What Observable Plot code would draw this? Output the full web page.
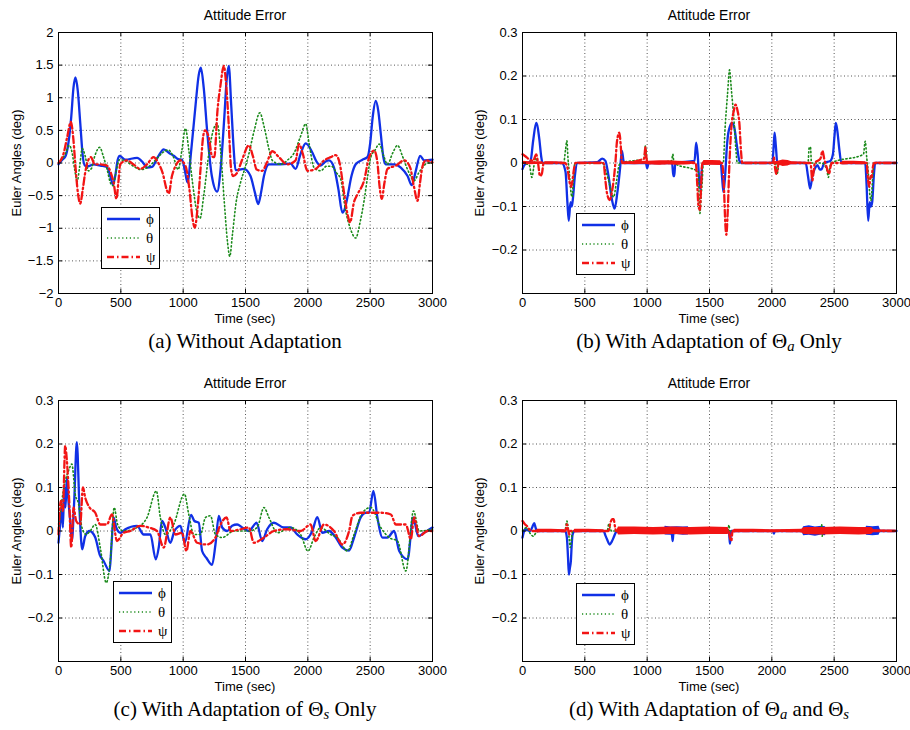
<!DOCTYPE html>
<html><head><meta charset="utf-8">
<script src="https://cdn.jsdelivr.net/npm/d3@7"></script>
<script src="https://cdn.jsdelivr.net/npm/@observablehq/plot@0.6"></script>
<style>
body{margin:0;background:#fff;}
#fig{position:relative;width:910px;height:730px;background:#fff;font-family:"Liberation Sans",Arial,sans-serif;color:#000;overflow:hidden;}
.abs{position:absolute;transform:translate(-50%,-50%);white-space:nowrap;line-height:1.15;}
.title{font-size:14px;}
.xl{font-size:13px;}
.yl{font-size:13px;transform:translate(-50%,-50%) rotate(-90deg);}
.cap{font-family:"Liberation Serif","Times New Roman",serif;font-size:21px;}
.cap sub{font-size:70%;font-style:italic;vertical-align:-0.22em;line-height:0;}
.panel{position:absolute;}
.legend{position:absolute;border:1px solid #000;background:#fff;width:57px;height:60px;}
.legend text{font-family:"Liberation Serif","DejaVu Serif",serif;font-size:15px;}
</style></head><body><div id="fig"></div>
<script>
// ---------- axes ----------
const xTicks = [0, 500, 1000, 1500, 2000, 2500, 3000];
const xTickLabels = ["0", "500", "1000", "1500", "2000", "2500", "3000"];
const yTicksA = [2, 1.5, 1, 0.5, 0, -0.5, -1, -1.5, -2];
const yTickLabelsA = ["2", "1.5", "1", "0.5", "0", "\u22120.5", "\u22121", "\u22121.5", "\u22122"];
const yTicksS = [0.3, 0.2, 0.1, 0, -0.1, -0.2];
const yTickLabelsS = ["0.3", "0.2", "0.1", "0", "\u22120.1", "\u22120.2"];
const yDomainA = [-2, 2];
const yDomainS = [-0.3, 0.3];
const seriesNames = ["\u03d5", "\u03b8", "\u03c8"];
const titleText = "Attitude Error";
const xLabelText = "Time (sec)";
const yLabelText = "Euler Angles (deg)";
const captions = [
  "(a) Without Adaptation",
  "(b) With Adaptation of \u0398<sub>a</sub> Only",
  "(c) With Adaptation of \u0398<sub>s</sub> Only",
  "(d) With Adaptation of \u0398<sub>a</sub> and \u0398<sub>s</sub>"
];

// ---------- (a) without adaptation ----------
const aPhi = [[0,-0.02],[30,0.05],[55,0.1],[75,0.25],[102,0.7],[120,1.15],[136,1.31],[155,1.1],[175,0.6],[195,0.1],[212,-0.04],[241,-0.05],[281,-0.02],[335,-0.04],[388,-0.06],[415,-0.2],[437,-0.33],[455,-0.2],[475,0.05],[490,0.11],[536,0.05],[630,0.08],[680,0.0],[710,-0.07],[750,-0.06],[800,0.1],[844,0.21],[890,0.15],[924,0.11],[960,0.06],[991,0.05],[1012,-0.1],[1035,-0.3],[1065,0.2],[1100,0.9],[1125,1.35],[1142,1.46],[1165,1.15],[1192,0.5],[1230,-0.2],[1273,-0.44],[1300,-0.1],[1330,0.7],[1350,1.3],[1366,1.49],[1385,0.9],[1406,0.19],[1420,-0.11],[1487,-0.09],[1540,-0.2],[1575,-0.45],[1602,-0.63],[1625,-0.45],[1648,-0.2],[1688,-0.02],[1755,-0.02],[1862,-0.01],[1902,-0.09],[1942,0.14],[1983,0.3],[2036,0.16],[2070,0.02],[2103,-0.04],[2140,0.02],[2170,0.04],[2210,-0.07],[2245,-0.4],[2277,-0.76],[2300,-0.68],[2317,-0.53],[2350,-0.2],[2384,-0.02],[2438,0.05],[2478,0.09],[2500,0.3],[2520,0.7],[2545,0.95],[2565,0.8],[2585,0.45],[2605,0.1],[2625,-0.02],[2692,-0.02],[2746,-0.07],[2800,-0.2],[2834,-0.34],[2866,-0.12],[2901,0.11],[2933,0.04],[3000,0.05]];
const aTheta = [[0,0],[25,0.05],[55,0.14],[85,0.27],[110,0.15],[130,-0.1],[150,-0.28],[170,-0.05],[190,0.22],[215,0.1],[240,-0.12],[265,-0.08],[290,0.1],[330,0.24],[360,0.1],[390,-0.1],[420,-0.32],[440,-0.35],[460,-0.15],[490,0.05],[540,0.03],[600,-0.05],[660,-0.1],[720,-0.06],[780,0.05],[830,0.15],[880,0.2],[920,0.1],[960,-0.1],[990,0.2],[1018,0.53],[1045,0.2],[1075,-0.3],[1110,-0.75],[1135,-0.85],[1165,-0.5],[1210,0.2],[1250,0.55],[1273,0.6],[1300,0.2],[1330,-0.6],[1355,-1.2],[1374,-1.43],[1395,-1.1],[1425,-0.6],[1460,-0.3],[1500,-0.05],[1527,0.14],[1570,0.5],[1615,0.77],[1650,0.55],[1690,0.2],[1715,0.04],[1782,-0.02],[1840,0.05],[1889,0.15],[1940,0.4],[1983,0.6],[2010,0.3],[2050,-0.07],[2103,-0.12],[2150,-0.05],[2190,-0.05],[2230,-0.15],[2264,-0.25],[2300,-0.7],[2340,-1.0],[2384,-1.15],[2420,-0.9],[2451,-0.58],[2480,-0.2],[2505,0.09],[2540,0.2],[2572,0.29],[2610,0.1],[2639,-0.02],[2680,0.15],[2719,0.27],[2760,0.1],[2800,-0.1],[2853,-0.27],[2890,-0.15],[2920,-0.07],[2960,0.0],[3000,0]];
const aPsi = [[0,0],[40,0.14],[70,0.4],[99,0.63],[120,0.35],[134,0.0],[155,-0.45],[174,-0.62],[195,-0.4],[214,-0.15],[240,0.05],[260,0.09],[290,-0.02],[330,-0.02],[388,-0.04],[420,-0.15],[442,-0.3],[465,-0.55],[480,-0.3],[495,-0.02],[549,0.04],[600,-0.02],[656,-0.09],[710,-0.02],[763,0.09],[800,0.0],[835,-0.15],[870,-0.42],[884,-0.47],[910,-0.2],[938,-0.05],[978,0.04],[1020,-0.05],[1050,-0.4],[1075,-0.85],[1093,-0.99],[1115,-0.7],[1139,-0.1],[1160,0.4],[1175,0.5],[1206,0.39],[1232,0.1],[1250,0.09],[1275,0.8],[1300,1.2],[1326,1.49],[1345,1.2],[1365,0.6],[1385,-0.1],[1401,-0.2],[1433,-0.15],[1473,0.05],[1527,0.27],[1560,0.1],[1590,-0.1],[1634,-0.12],[1670,0.0],[1715,0.18],[1768,0.09],[1835,-0.02],[1902,0.04],[1929,0.29],[1960,0.14],[1996,-0.12],[2063,-0.09],[2130,0.04],[2183,0.09],[2224,0.12],[2255,0.0],[2290,-0.45],[2320,-0.8],[2339,-0.91],[2370,-0.6],[2398,-0.48],[2451,-0.27],[2492,0.09],[2532,0.19],[2558,0.01],[2575,-0.35],[2593,-0.55],[2615,-0.3],[2639,-0.09],[2706,-0.04],[2773,0.04],[2821,-0.07],[2850,-0.35],[2880,-0.58],[2900,-0.3],[2920,-0.05],[2947,0.04],[3000,0.01]];

// ---------- (b) adaptation of Theta_a only ----------
const bPhi = [[0,-0.014],[15,-0.005],[40,0.0],[65,0.005],[85,0.05],[110,0.092],[135,0.055],[150,0.015],[161,0],[316,0],[345,-0.02],[360,-0.09],[371,-0.133],[385,-0.09],[395,-0.1],[405,-0.08],[420,-0.03],[440,0],[600,0.002],[640,0.01],[665,0.005],[690,-0.03],[718,-0.085],[739,-0.105],[760,-0.07],[780,-0.02],[790,0.01],[798,0.028],[810,0.005],[820,0],[990,0],[1000,-0.012],[1012,0],[1200,0],[1210,-0.03],[1218,-0.03],[1225,0],[1380,0.005],[1393,0.047],[1405,0.02],[1420,-0.05],[1428,-0.06],[1440,-0.01],[1450,0],[1590,0],[1600,-0.03],[1612,-0.067],[1625,-0.03],[1640,0.04],[1655,0.075],[1682,0.092],[1700,0.08],[1720,0.04],[1740,0.005],[1755,0],[2004,0],[2015,0.04],[2022,0.07],[2032,0.04],[2044,0],[2272,0],[2290,-0.03],[2307,-0.059],[2325,-0.03],[2339,-0.017],[2350,-0.01],[2366,-0.005],[2385,-0.015],[2400,-0.014],[2420,0],[2470,0.005],[2490,0.02],[2502,0.06],[2513,0.092],[2525,0.075],[2540,0.035],[2558,0],[2749,0],[2760,-0.05],[2773,-0.133],[2785,-0.09],[2795,-0.1],[2805,-0.09],[2818,-0.03],[2829,0],[3000,0]];
const bTheta = [[0,0],[55,-0.005],[75,-0.033],[90,-0.01],[102,0.013],[120,0],[330,0],[345,0.03],[356,0.051],[365,0.01],[375,-0.02],[390,-0.07],[398,-0.078],[410,-0.03],[420,0],[640,0],[670,-0.02],[695,-0.045],[715,-0.07],[731,-0.078],[755,-0.04],[775,-0.005],[790,0],[975,0.01],[986,0.039],[995,0.01],[1005,0],[1195,0.005],[1206,0.02],[1215,0],[1410,-0.02],[1418,-0.09],[1423,-0.116],[1432,-0.08],[1442,-0.04],[1450,0],[1610,0],[1625,0.08],[1645,0.16],[1661,0.214],[1675,0.17],[1696,0.1],[1712,0.03],[1723,0],[2030,0],[2040,-0.025],[2048,-0.02],[2055,0],[2290,0],[2300,0.036],[2310,0.036],[2318,0],[2400,0],[2440,-0.015],[2454,-0.033],[2465,-0.01],[2475,0],[2735,0.02],[2749,0.05],[2762,0.01],[2773,-0.02],[2785,-0.07],[2795,-0.086],[2810,-0.03],[2820,0],[3000,0]];
const bPsi = [[0,0.02],[25,0.015],[55,0.008],[85,0.005],[110,0.02],[125,0.0],[140,-0.03],[155,-0.025],[170,0],[340,0],[360,-0.01],[375,-0.04],[391,-0.055],[403,-0.035],[415,-0.01],[425,0],[650,0],[665,-0.04],[678,-0.07],[700,-0.085],[715,-0.07],[731,-0.04],[745,0.0],[758,0.05],[777,0.07],[788,0.04],[798,0],[975,0.01],[986,0.036],[995,0.01],[1005,0],[1390,0],[1400,-0.04],[1412,-0.1],[1423,-0.108],[1433,-0.05],[1442,0],[1600,0],[1615,-0.05],[1627,-0.14],[1635,-0.165],[1645,-0.12],[1660,0.0],[1675,0.08],[1695,0.12],[1709,0.134],[1725,0.12],[1740,0.09],[1752,0.03],[1763,0],[2010,0],[2017,0.013],[2025,-0.01],[2036,-0.025],[2045,-0.015],[2055,0],[2310,0],[2325,-0.04],[2335,-0.02],[2345,0],[2390,0.01],[2406,0.028],[2420,0.01],[2440,-0.01],[2459,-0.025],[2470,-0.01],[2480,0],[2760,0],[2772,-0.04],[2781,-0.055],[2792,-0.03],[2800,-0.033],[2810,-0.01],[2820,0],[3000,0]];
// noisy envelope of psi in (b): [time, low, high]
const bPsiNoise = [[0,-0.003,0.004],[60,-0.004,0.003],[160,-0.003,0.003],[175,0,0],[180,-0.003,0.003],[260,-0.002,0.003],[325,-0.003,0.002],[335,0,0],[430,0,0],[440,-0.002,0.002],[640,-0.002,0.002],[650,0,0],[805,0,0],[815,-0.003,0.003],[900,-0.004,0.003],[980,-0.003,0.004],[1010,-0.004,0.004],[1100,-0.005,0.005],[1180,-0.004,0.005],[1250,-0.005,0.004],[1380,-0.003,0.003],[1390,0,0],[1445,0,0],[1455,-0.006,0.006],[1520,-0.005,0.006],[1590,-0.006,0.005],[1600,0,0],[1765,0,0],[1775,-0.002,0.002],[2000,-0.002,0.002],[2050,-0.004,0.004],[2090,-0.008,0.007],[2130,-0.007,0.006],[2160,-0.003,0.003],[2270,-0.002,0.002],[2280,0,0],[2560,0,0],[2570,-0.004,0.004],[2660,-0.003,0.004],[2750,-0.004,0.003],[2760,0,0],[2830,0,0],[2840,-0.0015,0.0015],[3000,-0.0015,0.0015]];

// ---------- (c) adaptation of Theta_s only ----------
const cPhi = [[0,-0.027],[13,0.015],[27,0.054],[35,0.008],[46,0.1],[56,0.054],[67,0.123],[80,0.069],[94,0.023],[107,-0.023],[126,0.069],[147,0.204],[169,0.046],[190,-0.042],[214,-0.012],[249,0],[295,-0.015],[330,-0.054],[362,-0.069],[410,-0.092],[423,-0.042],[442,0.031],[463,0.008],[496,-0.004],[536,0.004],[630,0.012],[683,-0.008],[737,-0.008],[780,-0.065],[804,-0.038],[830,0.023],[857,0.008],[897,-0.027],[930,0],[978,0.012],[1013,-0.027],[1063,0.037],[1090,0.023],[1125,0.019],[1152,-0.046],[1187,-0.062],[1232,-0.078],[1259,-0.031],[1286,0.035],[1313,0.008],[1353,0],[1393,0.012],[1433,0.015],[1473,0.008],[1527,0],[1589,0.019],[1634,-0.023],[1674,0.004],[1728,0.019],[1808,0.008],[1862,0.008],[1915,-0.008],[1983,-0.019],[2036,0],[2076,0.032],[2116,-0.004],[2170,0],[2224,-0.015],[2277,-0.038],[2331,-0.045],[2371,-0.015],[2424,0.031],[2465,0.042],[2491,0.042],[2526,0.092],[2558,0.031],[2599,-0.015],[2639,-0.015],[2692,0],[2733,-0.046],[2800,-0.065],[2845,0.031],[2886,-0.012],[2933,-0.004],[3000,0.008]];
const cTheta = [[0,0],[27,0.07],[54,0.115],[80,0.138],[107,0.154],[134,0.085],[161,0.062],[188,0.008],[222,-0.008],[254,0],[295,0.015],[335,-0.038],[383,-0.119],[415,-0.069],[447,0.054],[474,0.015],[522,0],[630,0.008],[710,0.031],[785,0.092],[817,0.031],[857,-0.008],[924,0.015],[1010,0.085],[1045,0.038],[1085,-0.008],[1139,-0.008],[1179,0.031],[1219,0.035],[1259,-0.008],[1313,-0.015],[1407,0],[1527,0],[1594,0.008],[1648,0.054],[1688,0.031],[1755,-0.004],[1862,0.008],[1942,-0.008],[2001,-0.046],[2050,-0.015],[2103,0.008],[2183,-0.008],[2237,-0.015],[2317,-0.046],[2371,-0.008],[2438,0.042],[2505,0.054],[2585,0.008],[2652,-0.015],[2719,-0.023],[2786,-0.092],[2848,0.046],[2893,0],[3000,0.004]];
const cPsi = [[0,-0.008],[19,0.069],[35,0.046],[54,0.196],[67,0.162],[86,0.069],[102,-0.038],[121,0.054],[142,0.023],[174,0.015],[196,0.1],[214,0.077],[249,0.054],[295,0.042],[335,0.015],[388,0.015],[429,0.038],[469,-0.023],[522,-0.004],[576,0],[656,0.012],[723,0.008],[790,0],[844,-0.038],[897,0.031],[938,-0.008],[991,-0.004],[1026,-0.046],[1058,0],[1112,-0.027],[1192,-0.031],[1259,-0.015],[1300,0.015],[1348,0.031],[1380,0],[1460,0.004],[1527,0.008],[1567,-0.027],[1648,-0.015],[1728,0],[1835,0.004],[1942,0],[2022,0.015],[2063,-0.023],[2130,0.015],[2210,0],[2277,-0.031],[2331,0],[2358,0.035],[2424,0.042],[2505,0.042],[2585,0.042],[2666,0.038],[2706,0.015],[2786,0.015],[2826,-0.019],[2853,0.031],[2893,-0.012],[2960,0],[3000,0]];

// ---------- (d) adaptation of Theta_a and Theta_s ----------
const dPhi = [[0,-0.015],[21,0.004],[62,0],[80,0.01],[94,0.018],[105,0.008],[115,0],[343,0],[356,-0.015],[365,-0.06],[372,-0.1],[380,-0.085],[388,-0.069],[395,-0.03],[402,-0.008],[418,0],[651,0],[665,-0.01],[678,-0.019],[699,-0.031],[715,-0.025],[731,-0.015],[745,-0.005],[758,0],[1195,0],[1200,-0.012],[1205,-0.023],[1210,-0.005],[1215,0],[1655,0],[1660,-0.015],[1664,-0.029],[1670,-0.01],[1675,0],[2010,0],[2017,-0.006],[2024,0],[3000,0]];
const dTheta = [[0,0],[35,0.008],[60,-0.005],[88,-0.012],[110,-0.003],[130,0],[340,0],[356,0.023],[365,0.01],[375,-0.02],[383,-0.038],[392,-0.02],[402,0],[680,0],[691,0.015],[705,0.005],[715,0],[1648,0],[1656,0.014],[1664,0],[2395,0],[2400,0.015],[2404,-0.012],[2410,0],[3000,0]];
const dPsi = [[0,0.023],[21,0.015],[40,0.01],[54,0.004],[75,0],[345,0],[356,0.015],[365,0.005],[375,-0.008],[385,0],[690,0],[705,0.019],[720,0.027],[731,0.027],[742,0.01],[750,0],[1655,0],[1664,-0.015],[1675,-0.023],[1685,0],[3000,0]];
// noisy envelopes in (d): [time, low, high]
const dPhiNoise = [[1130,0,0],[1145,-0.009,0.011],[1190,-0.01,0.009],[1240,-0.008,0.01],[1290,-0.01,0.009],[1330,-0.009,0.01],[1345,0,0],[2240,0,0],[2255,-0.011,0.01],[2300,-0.01,0.012],[2350,-0.012,0.009],[2400,-0.009,0.011],[2430,-0.011,0.01],[2445,0,0],[2745,0,0],[2760,-0.01,0.011],[2810,-0.011,0.01],[2860,-0.01,0.011],[2875,0,0]];
const dPsiNoise = [[110,0,0],[120,-0.004,0.004],[230,-0.003,0.004],[340,-0.004,0.003],[350,0,0],[410,0,0],[420,-0.004,0.004],[530,-0.003,0.004],[650,-0.004,0.003],[660,0,0],[755,0,0],[770,-0.009,0.009],[900,-0.008,0.009],[1050,-0.009,0.008],[1200,-0.008,0.009],[1350,-0.009,0.008],[1500,-0.008,0.009],[1650,-0.008,0.008],[1660,0,0],[1690,0,0],[1700,-0.004,0.004],[1850,-0.003,0.004],[2000,-0.004,0.003],[2030,-0.003,0.003],[2240,-0.004,0.004],[2260,-0.008,0.008],[2400,-0.009,0.008],[2550,-0.008,0.009],[2700,-0.009,0.008],[2800,-0.008,0.008],[2820,-0.003,0.003],[3000,-0.002,0.002]];

// ---------- styles ----------
const phiStyle = {stroke: "#1030e6", strokeWidth: 2.3};
const thetaStyle = {stroke: "#1a8a1a", strokeWidth: 1.6, strokeDasharray: "1.2,2.6"};
const psiStyle = {stroke: "#f21414", strokeWidth: 2.3, strokeDasharray: "7,3,1.5,3"};

const fig = document.getElementById("fig");

function addText(cls, html, x, y) {
  const s = document.createElement("div");
  s.className = "abs " + cls;
  s.innerHTML = html;
  s.style.left = x + "px";
  s.style.top = y + "px";
  fig.appendChild(s);
}

function addLegend(x, y) {
  const d = document.createElement("div");
  d.className = "legend";
  d.style.left = x + "px";
  d.style.top = y + "px";
  const ys = [11, 30, 49];
  const st = [phiStyle, thetaStyle, psiStyle];
  let svg = '<svg width="57" height="60">';
  st.forEach((s, i) => {
    svg += `<line x1="5" x2="38" y1="${ys[i]}" y2="${ys[i]}" stroke="${s.stroke}" stroke-width="${s.strokeWidth}" ${s.strokeDasharray ? `stroke-dasharray="${s.strokeDasharray}"` : ""}/>`;
    svg += `<text x="44" y="${ys[i] + 5}">${seriesNames[i]}</text>`;
  });
  svg += "</svg>";
  d.innerHTML = svg;
  fig.appendChild(d);
}

function makePanel({left, top, ml, mr, yDomain, yTicks, yLabels, phi, theta, psi, phiNoise, psiNoise, caption, legendPos}) {
  const W = 455, H = 330, mt = 32, mb = 37;
  const xmap = new Map(xTicks.map((t, i) => [t, xTickLabels[i]]));
  const ymap = new Map(yTicks.map((t, i) => [t, yLabels[i]]));
  const [y0, y1] = yDomain;
  const tk = (y1 - y0) * 0.016;
  const tkx = 3000 * 0.011;
  const innerX = xTicks.filter(v => v > 0 && v < 3000);
  const innerY = yTicks.filter(v => v > y0 && v < y1);
  const grid = {stroke: "#444", strokeOpacity: 1, strokeWidth: 0.9, strokeDasharray: "1,2.5"};
  const marks = [
    Plot.gridX(innerX, grid),
    Plot.gridY(innerY, grid)
  ];
  if (phiNoise) marks.push(Plot.areaY(phiNoise, {x: d => d[0], y1: d => d[1], y2: d => d[2], fill: phiStyle.stroke}));
  marks.push(Plot.line(phi, {...phiStyle, curve: "monotone-x"}));
  marks.push(Plot.line(theta, {...thetaStyle, curve: "monotone-x"}));
  if (psiNoise) marks.push(Plot.areaY(psiNoise, {x: d => d[0], y1: d => d[1], y2: d => d[2], fill: psiStyle.stroke}));
  marks.push(Plot.line(psi, {...psiStyle, curve: "monotone-x"}));
  marks.push(
    Plot.ruleX(xTicks, {y1: y0, y2: y0 + tk, stroke: "#000"}),
    Plot.ruleX(xTicks, {y1: y1, y2: y1 - tk, stroke: "#000"}),
    Plot.ruleY(yTicks, {x1: 0, x2: tkx, stroke: "#000"}),
    Plot.ruleY(yTicks, {x1: 3000, x2: 3000 - tkx, stroke: "#000"}),
    Plot.frame({stroke: "#000", strokeWidth: 1}),
    Plot.axisX(xTicks, {anchor: "bottom", tickSize: 0, tickPadding: 4, tickFormat: d => xmap.get(d), label: null, fontSize: 13}),
    Plot.axisY(yTicks, {anchor: "left", tickSize: 0, tickPadding: 5, tickFormat: d => ymap.get(d), label: null, fontSize: 13})
  );
  const p = Plot.plot({
    width: W, height: H, marginTop: mt, marginBottom: mb, marginLeft: ml, marginRight: mr,
    x: {domain: [0, 3000]},
    y: {domain: yDomain},
    style: {fontFamily: "Liberation Sans, Arial, sans-serif", fontSize: "13px", color: "#000", background: "transparent", overflow: "visible"},
    marks
  });
  const wrap = document.createElement("div");
  wrap.className = "panel";
  wrap.style.left = left + "px";
  wrap.style.top = top + "px";
  wrap.appendChild(p);
  fig.appendChild(wrap);
  const cx = left + ml + (W - ml - mr) / 2;
  addText("title", titleText, cx, top + 15);
  addText("xl", xLabelText, cx, top + 319);
  addText("yl", yLabelText, left + (ml === 58 ? 17 : 25), top + mt + (H - mt - mb) / 2);
  addText("cap", caption, cx, top + 341);
  addLegend(legendPos[0], legendPos[1]);
}

makePanel({left: 0, top: 0, ml: 58, mr: 23, yDomain: yDomainA, yTicks: yTicksA, yLabels: yTickLabelsA,
  phi: aPhi, theta: aTheta, psi: aPsi, caption: captions[0], legendPos: [101, 207]});
makePanel({left: 455, top: 0, ml: 67, mr: 14, yDomain: yDomainS, yTicks: yTicksS, yLabels: yTickLabelsS,
  phi: bPhi, theta: bTheta, psi: bPsi, psiNoise: bPsiNoise, caption: captions[1], legendPos: [576, 213]});
makePanel({left: 0, top: 368, ml: 58, mr: 23, yDomain: yDomainS, yTicks: yTicksS, yLabels: yTickLabelsS,
  phi: cPhi, theta: cTheta, psi: cPsi, caption: captions[2], legendPos: [113, 581]});
makePanel({left: 455, top: 368, ml: 67, mr: 14, yDomain: yDomainS, yTicks: yTicksS, yLabels: yTickLabelsS,
  phi: dPhi, theta: dTheta, psi: dPsi, phiNoise: dPhiNoise, psiNoise: dPsiNoise, caption: captions[3], legendPos: [576, 583]});
</script></body></html>
